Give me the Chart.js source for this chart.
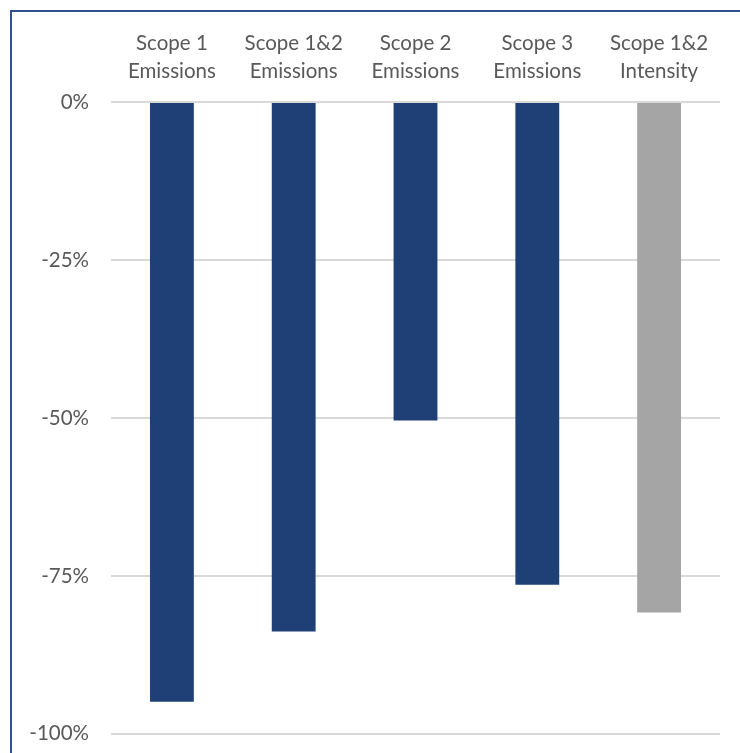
<!DOCTYPE html>
<html lang="en">
<head>
    <meta charset="UTF-8">
    <title>Emissions Reduction</title>
    <script src="https://cdn.jsdelivr.net/npm/chart.js"></script>
    <style>
        body { margin: 0; background: #fff; overflow: hidden; }
        .frame {
            position: absolute; left: 10px; top: 10px;
            width: 740px; height: 753px;
            border-left: 2px solid #2F528F; border-top: 2px solid #2F528F;
        }
        .wrap { position: absolute; left: 0; top: 0; width: 740px; height: 753px; overflow: hidden; }
    </style>
</head>
<body>
    <div class="frame"></div>
    <div class="wrap"><canvas id="chart" width="740" height="770"></canvas></div>

    <script>
        // Data
        const categories = [
            ['Scope 1', 'Emissions'],
            ['Scope 1&2', 'Emissions'],
            ['Scope 2', 'Emissions'],
            ['Scope 3', 'Emissions'],
            ['Scope 1&2', 'Intensity']
        ];
        const changes = [-94.9, -83.8, -50.4, -76.4, -80.8];
        const barColors = ['#1F3F77', '#1F3F77', '#1F3F77', '#1F3F77', '#A5A5A5'];
        const yTicks = [0, -25, -50, -75, -100];

        const font = { family: 'Lato, "Open Sans", sans-serif', size: 20.5, lineHeight: 1.38 };

        new Chart(document.getElementById('chart'), {
            type: 'bar',
            data: {
                labels: categories,
                datasets: [{
                    data: changes,
                    backgroundColor: barColors,
                    categoryPercentage: 1,
                    barPercentage: 0.36
                }]
            },
            options: {
                responsive: false,
                animation: false,
                layout: { padding: { left: 12, right: 20, top: 12, bottom: 6 } },
                plugins: { legend: { display: false }, tooltip: { enabled: false } },
                scales: {
                    x: {
                        position: 'top',
                        grid: { display: false, drawTicks: false },
                        border: { display: false },
                        ticks: { color: '#595959', font: font, padding: 16, maxRotation: 0 },
                        afterFit: s => { s.height = 90; }
                    },
                    y: {
                        min: -100,
                        max: 0,
                        afterBuildTicks: s => { s.ticks = yTicks.map(v => ({ value: v })); },
                        grid: { color: '#D9D9D9', lineWidth: 2, drawTicks: false },
                        border: { display: false },
                        ticks: {
                            color: '#595959', font: font, padding: 22,
                            callback: v => v + '%'
                        },
                        afterFit: s => { s.width = 99; }
                    }
                }
            }
        });
    </script>
</body>
</html>
